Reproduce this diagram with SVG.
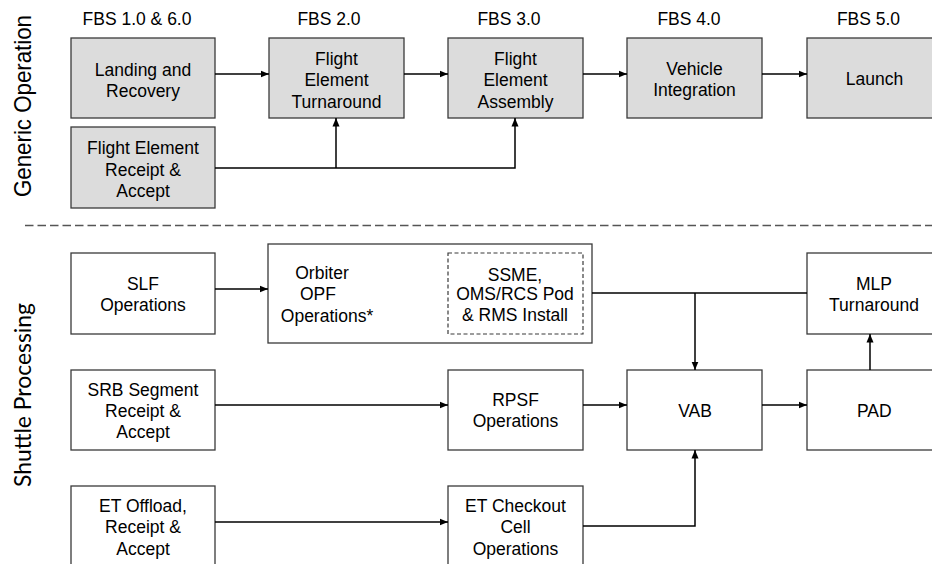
<svg xmlns="http://www.w3.org/2000/svg" width="932" height="564" viewBox="0 0 932 564">
<style>
.box{stroke:#3a3a3a;stroke-width:1.3;fill:#ffffff}
.gray{fill:#dcdcdc}
.dash{stroke:#3a3a3a;stroke-width:1.2;fill:none;stroke-dasharray:4 2.5}
.t{font-family:"Liberation Sans",Arial,sans-serif;font-size:17.5px;fill:#000;text-anchor:middle}
.side{font-size:24px;fill:#000;text-anchor:middle}
.conn path{stroke:#000;stroke-width:1.5;fill:none}
</style>
<defs>
<marker id="ah" markerUnits="userSpaceOnUse" markerWidth="9" markerHeight="8" refX="8.5" refY="4" orient="auto">
<path d="M0,0.5 L8.5,4 L0,7.5 z" fill="#000"/>
</marker>
</defs>
<rect width="932" height="564" fill="#fff"/>
<text class="side" font-family="Liberation Sans, Arial, sans-serif" transform="translate(31,106) rotate(-90)" textLength="182" lengthAdjust="spacingAndGlyphs">Generic Operation</text>
<text class="side" font-family="Lato, Open Sans, sans-serif" transform="translate(31,395) rotate(-90)" textLength="184" lengthAdjust="spacingAndGlyphs">Shuttle Processing</text>
<line x1="25" y1="225.5" x2="932" y2="225.5" stroke="#555" stroke-width="1.3" stroke-dasharray="8.5 4"/>
<g class="t">
<text x="137" y="24.5">FBS 1.0 &amp; 6.0</text>
<text x="329" y="24.5">FBS 2.0</text>
<text x="509" y="24.5">FBS 3.0</text>
<text x="689" y="24.5">FBS 4.0</text>
<text x="868.5" y="24.5">FBS 5.0</text>
</g>
<g id="landing"><rect class="box gray" x="71" y="38" width="144" height="80"/><text class="t" x="143" y="76.3">Landing and</text><text class="t" x="143" y="97">Recovery</text></g>
<g id="fet"><rect class="box gray" x="269" y="38" width="135" height="80"/><text class="t" x="336.5" y="64.6">Flight</text><text class="t" x="336.5" y="86.3">Element</text><text class="t" x="336.5" y="107.6">Turnaround</text></g>
<g id="fea"><rect class="box gray" x="448" y="38" width="135" height="80"/><text class="t" x="515.5" y="64.6">Flight</text><text class="t" x="515.5" y="86.3">Element</text><text class="t" x="515.5" y="107.6">Assembly</text></g>
<g id="vi"><rect class="box gray" x="627" y="38" width="135" height="80"/><text class="t" x="694.5" y="75.3">Vehicle</text><text class="t" x="694.5" y="96.3">Integration</text></g>
<g id="launch"><rect class="box gray" x="807" y="38" width="135" height="80"/><text class="t" x="874.5" y="85.3">Launch</text></g>
<g id="fer"><rect class="box gray" x="71" y="127" width="144" height="81"/><text class="t" x="143" y="153.6">Flight Element</text><text class="t" x="143" y="176.3">Receipt &amp;</text><text class="t" x="143" y="197">Accept</text></g>
<g id="slf"><rect class="box" x="71" y="253" width="144" height="81"/><text class="t" x="143" y="289.6">SLF</text><text class="t" x="143" y="311.3">Operations</text></g>
<g id="orbiter"><rect class="box" x="268" y="244" width="324" height="99"/><text class="t" x="322" y="279">Orbiter</text><text class="t" x="318" y="300.3">OPF</text><text class="t" x="327" y="322.3">Operations*</text>
<rect class="dash" x="448" y="253" width="135" height="81"/><text class="t" x="515" y="280.6">SSME,</text><text class="t" x="515" y="300.3">OMS/RCS Pod</text><text class="t" x="515" y="320.6">&amp; RMS Install</text></g>
<g id="mlp"><rect class="box" x="807" y="253" width="135" height="81"/><text class="t" x="874" y="289.6">MLP</text><text class="t" x="874" y="310.6">Turnaround</text></g>
<g id="srb"><rect class="box" x="71" y="370" width="144" height="80"/><text class="t" x="143" y="395.6">SRB Segment</text><text class="t" x="143" y="417">Receipt &amp;</text><text class="t" x="143" y="438">Accept</text></g>
<g id="rpsf"><rect class="box" x="448" y="370" width="135" height="80"/><text class="t" x="515.5" y="406.3">RPSF</text><text class="t" x="515.5" y="427.3">Operations</text></g>
<g id="vab"><rect class="box" x="627" y="370" width="135" height="80"/><text class="t" x="695" y="417">VAB</text></g>
<g id="pad"><rect class="box" x="807" y="370" width="135" height="80"/><text class="t" x="874.3" y="417">PAD</text></g>
<g id="etoffload"><rect class="box" x="71" y="486" width="144" height="80"/><text class="t" x="143" y="512">ET Offload,</text><text class="t" x="143" y="533">Receipt &amp;</text><text class="t" x="143" y="554.6">Accept</text></g>
<g id="etcheckout"><rect class="box" x="448" y="486" width="135" height="80"/><text class="t" x="515.5" y="512">ET Checkout</text><text class="t" x="515.5" y="533">Cell</text><text class="t" x="515.5" y="554.6">Operations</text></g>
<g class="conn" id="connectors">
<path d="M215,74 H269" marker-end="url(#ah)"/>
<path d="M404,74 H448" marker-end="url(#ah)"/>
<path d="M583,74 H627" marker-end="url(#ah)"/>
<path d="M762,74 H807" marker-end="url(#ah)"/>
<path d="M215,168 H515 V118" marker-end="url(#ah)"/>
<path d="M336,168 V118" marker-end="url(#ah)"/>
<path d="M215,289 H268" marker-end="url(#ah)"/>
<path d="M592,293 H807"/>
<path d="M695,293 V370" marker-end="url(#ah)"/>
<path d="M215,405 H448" marker-end="url(#ah)"/>
<path d="M583,405 H627" marker-end="url(#ah)"/>
<path d="M762,405 H807" marker-end="url(#ah)"/>
<path d="M870,370 V334" marker-end="url(#ah)"/>
<path d="M215,522 H448" marker-end="url(#ah)"/>
<path d="M583,526 H695 V450" marker-end="url(#ah)"/>
</g>
</svg>
